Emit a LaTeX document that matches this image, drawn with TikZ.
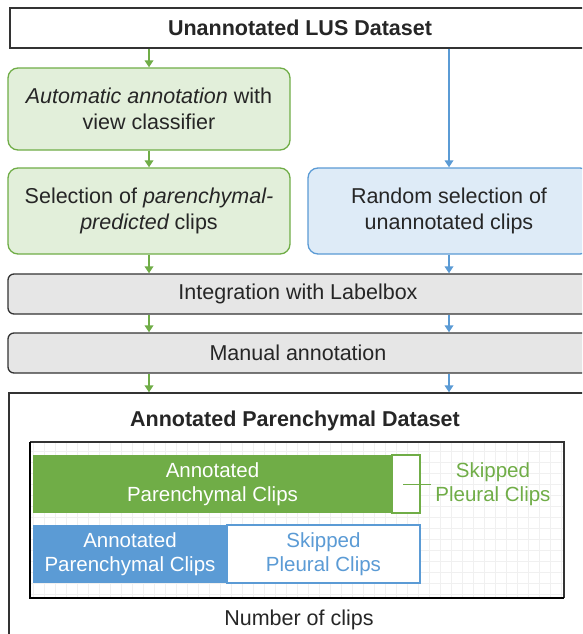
\documentclass[tikz,border=0pt]{standalone}
\usepackage{fontspec}
\setmainfont{Liberation Sans}
\usetikzlibrary{arrows.meta}
\definecolor{gfill}{HTML}{E2EFDA}
\definecolor{gline}{HTML}{70AD47}
\definecolor{bfill}{HTML}{DEEBF7}
\definecolor{bline}{HTML}{5B9BD5}
\definecolor{grayfill}{HTML}{E6E6E6}
\definecolor{txt}{HTML}{262626}
\definecolor{edge}{HTML}{333333}
\begin{document}
\begin{tikzpicture}[x=1pt,y=-1pt,
  every node/.style={font=\fontsize{21.5}{26}\selectfont, text=txt, align=center, inner sep=0pt},
  sqbox/.style={draw=edge, line width=1.4pt, fill=white},
  gbox/.style={draw=gline, fill=gfill, line width=1.3pt, rounded corners=10pt},
  bbox/.style={draw=bline, fill=bfill, line width=1.3pt, rounded corners=10pt},
  graybox/.style={draw=edge, fill=grayfill, line width=1.3pt, rounded corners=6pt},
  garrow/.style={draw=gline, line width=2.6pt, -{Triangle[width=8.5pt,length=7pt]}},
  barrow/.style={draw=bline, line width=2.6pt, -{Triangle[width=8.5pt,length=7pt]}},
  barlabel/.style={font=\fontsize{20.5}{24}\selectfont}
]
\useasboundingbox (0,0) rectangle (582,634);
\clip (0,0) rectangle (582,634);
\fill[white] (0,0) rectangle (582,634);

% top box
\node[sqbox, minimum width=580pt, minimum height=40pt] (top) at (300,28) {\bfseries Unannotated LUS Dataset};

% green column
\node[gbox, minimum width=282pt, minimum height=82pt] (auto) at (149,109) {\itshape Automatic annotation\upshape{} with\\view classifier};
\node[gbox, minimum width=282pt, minimum height=86pt] (sel) at (149,211) {Selection of \itshape parenchymal-\\\itshape predicted\upshape{} clips};
% blue column
\node[bbox, minimum width=282pt, minimum height=86pt] (rand) at (449,211) {Random selection of\\unannotated clips};

% gray boxes
\node[graybox, minimum width=580pt, minimum height=40pt] (integ) at (298,294) {Integration with Labelbox};
\node[graybox, minimum width=580pt, minimum height=40pt] (manual) at (298,353) {Manual annotation};

% outer result box
\node[draw=edge, line width=1.3pt, fill=white, minimum width=600pt, minimum height=260pt] (outer) at (309,523) {};
\node (title) at (295,421) {\bfseries Annotated Parenchymal Dataset};

% chart
\coordinate (cTL) at (30,442);
\coordinate (cBR) at (564,598);
\begin{scope}
\clip (cTL) rectangle (cBR);
\draw[gray!12, line width=0.6pt, xstep=11pt, ystep=11pt] (30,442) grid (564,598);
\end{scope}
\draw[edge, line width=1.3pt] (cTL) -- (cTL -| cBR) -- (cBR);
\draw[black, line width=2.6pt] (cTL) -- (cTL |- cBR) -- (cBR);

% green bar
\node[fill=gline, minimum width=359pt, minimum height=58pt] (gbar) at (212.5,484) {};
\node[barlabel, text=white] (gbartxt) at (gbar) {Annotated\\Parenchymal Clips};
\node[draw=gline, fill=white, line width=1.2pt, minimum width=28pt, minimum height=58pt] (gskip) at (406,484) {};
\node[barlabel, text=gline] (gskiptxt) at (493,484) {Skipped\\Pleural Clips};
\coordinate (gtickL) at (403,484);
\coordinate (gtickR) at (431,484);
\draw[gline, line width=1pt] (gtickL) -- (gtickR);

% blue bar
\node[fill=bline, minimum width=194pt, minimum height=58pt] (bbar) at (130,554) {};
\node[barlabel, text=white] (bbartxt) at (bbar) {Annotated\\Parenchymal Clips};
\node[draw=bline, fill=white, line width=1.2pt, minimum width=193pt, minimum height=58pt] (bskip) at (323.5,554) {};
\node[barlabel, text=bline] (bskiptxt) at (bskip) {Skipped\\Pleural Clips};

\node (xlabel) at (299,620) {Number of clips};

% arrows
\draw[garrow] (top.south -| auto.north) -- (auto.north);
\draw[garrow] (auto.south) -- (sel.north);
\draw[garrow] (sel.south) -- (sel.south |- integ.north);
\draw[garrow] (integ.south -| sel.south) -- (manual.north -| sel.south);
\draw[garrow] (manual.south -| sel.south) -- (outer.north -| sel.south);

\draw[barrow] (top.south -| rand.north) -- (rand.north);
\draw[barrow] (rand.south) -- (rand.south |- integ.north);
\draw[barrow] (integ.south -| rand.south) -- (manual.north -| rand.south);
\draw[barrow] (manual.south -| rand.south) -- (outer.north -| rand.south);
\end{tikzpicture}
\end{document}
